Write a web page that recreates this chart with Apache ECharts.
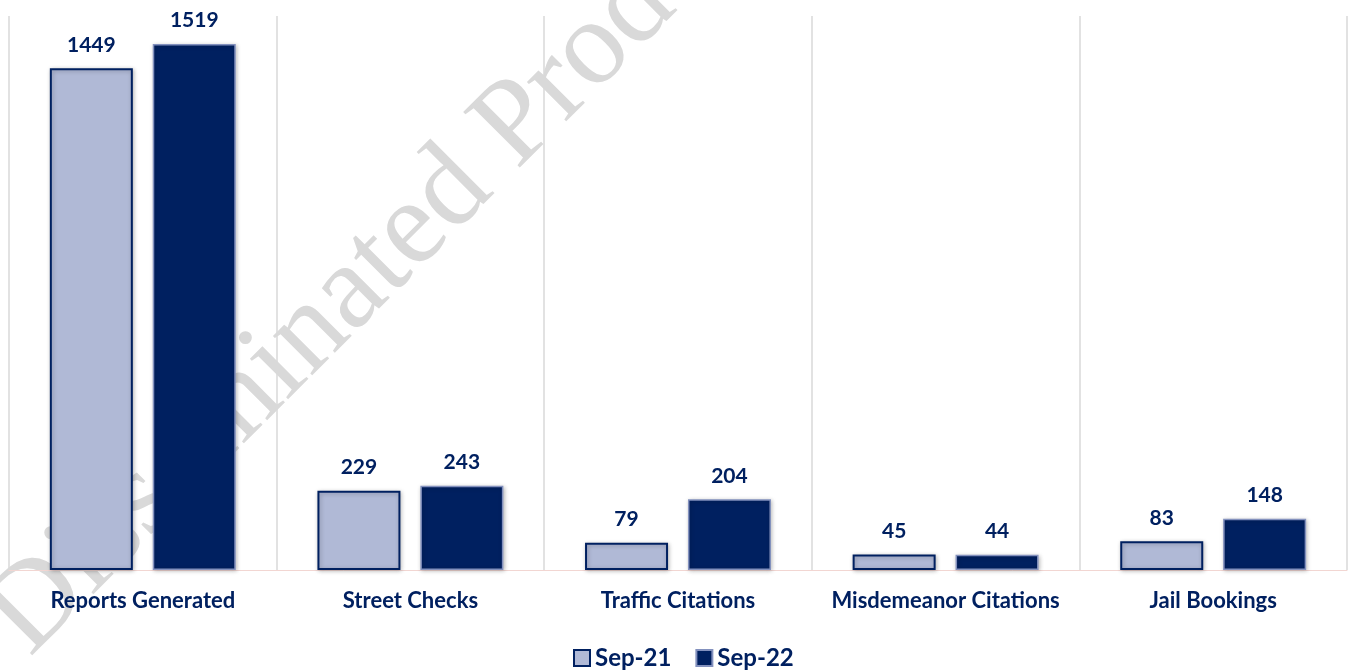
<!DOCTYPE html>
<html>
<head>
<meta charset="utf-8">
<title>Monthly Activity Comparison</title>
<script src="https://cdn.jsdelivr.net/npm/echarts@6/dist/echarts.min.js"></script>
<style>
  html, body { margin: 0; padding: 0; background: #ffffff; }
  #chart { width: 1351px; height: 671px; }
</style>
</head>
<body>
<div id="chart"></div>
<script>
// Activity categories and monthly counts
const categories = ['Reports Generated', 'Street Checks', 'Traffic Citations', 'Misdemeanor Citations', 'Jail Bookings'];
const seriesNames = ['Sep-21', 'Sep-22'];
const sep21 = [1449, 229, 79, 45, 83];
const sep22 = [1519, 243, 204, 44, 148];
const watermarkText = 'Disseminated Product';

const NAVY = '#002060';
const LIGHT = '#B0B9D6';
const FONT = 'Lato, "Open Sans", sans-serif';

const chart = echarts.init(document.getElementById('chart'), null, { renderer: 'canvas' });

const valueLabel = {
  show: true,
  position: 'top',
  distance: 13,
  color: NAVY,
  fontFamily: FONT,
  fontWeight: 'bold',
  fontSize: 21
};

chart.setOption({
  animation: false,
  backgroundColor: '#ffffff',
  graphic: [{
    type: 'text',
    z: -10,
    x: 50,
    y: 678,
    rotation: Math.PI / 4,
    silent: true,
    style: {
      text: watermarkText,
      font: '121px "Liberation Serif", "DejaVu Serif", serif',
      fill: '#d9d9d9',
      textAlign: 'left',
      textVerticalAlign: 'bottom'
    }
  }],
  grid: { left: 9, right: 4, top: 16, bottom: 101, containLabel: false },
  legend: {
    data: seriesNames,
    top: 641,
    left: 568,
    icon: 'rect',
    itemWidth: 16,
    itemHeight: 16,
    itemGap: 24,
    textStyle: { color: NAVY, fontFamily: FONT, fontWeight: 'bold', fontSize: 24, padding: [0, 0, 0, 0] }
  },
  xAxis: {
    type: 'category',
    data: categories,
    boundaryGap: true,
    axisLine: { show: true, lineStyle: { color: '#F2D6D2', width: 1 } },
    axisTick: { show: false },
    splitLine: { show: true, lineStyle: { color: '#D9D9D9', width: 1.5 } },
    axisLabel: {
      color: NAVY,
      fontFamily: FONT,
      fontWeight: 'bold',
      fontSize: 22,
      margin: 20,
      interval: 0
    }
  },
  yAxis: {
    type: 'value',
    min: 0,
    max: 1600,
    show: false,
    splitLine: { show: false }
  },
  series: [
    {
      name: seriesNames[0],
      type: 'bar',
      data: sep21,
      barWidth: 83,
      barGap: '24%',
      itemStyle: {
        color: LIGHT,
        borderColor: NAVY,
        borderWidth: 2,
        shadowColor: 'rgba(0,0,0,0.25)',
        shadowBlur: 4,
        shadowOffsetX: 1,
        shadowOffsetY: 1
      },
      label: valueLabel
    },
    {
      name: seriesNames[1],
      type: 'bar',
      data: sep22,
      barWidth: 83,
      itemStyle: {
        color: NAVY,
        borderColor: '#8391BE',
        borderWidth: 1.5,
        shadowColor: 'rgba(0,0,0,0.25)',
        shadowBlur: 4,
        shadowOffsetX: 1,
        shadowOffsetY: 1
      },
      label: valueLabel
    }
  ]
});
</script>
</body>
</html>
